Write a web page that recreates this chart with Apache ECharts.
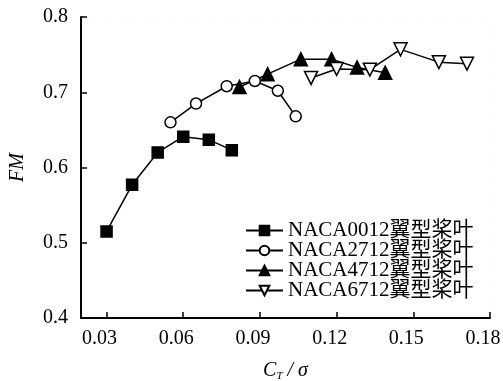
<!DOCTYPE html>
<html>
<head>
<meta charset="utf-8">
<script src="https://cdn.jsdelivr.net/npm/echarts@6/dist/echarts.min.js"></script>
<style>
  html, body { margin: 0; padding: 0; background: #fff; }
  #main { width: 503px; height: 381px; }
</style>
</head>
<body>
<div id="main"></div>
<script>
// values
var seriesNames = ['NACA0012翼型桨叶', 'NACA2712翼型桨叶', 'NACA4712翼型桨叶', 'NACA6712翼型桨叶'];
var naca0012X = [0.030, 0.040, 0.050, 0.060, 0.070, 0.079];
var naca0012Y = [0.515, 0.577, 0.620, 0.641, 0.637, 0.623];
var naca2712X = [0.055, 0.065, 0.077, 0.088, 0.097, 0.104];
var naca2712Y = [0.660, 0.685, 0.708, 0.715, 0.702, 0.668];
var naca4712X = [0.082, 0.093, 0.106, 0.118, 0.128, 0.139];
var naca4712Y = [0.707, 0.724, 0.744, 0.744, 0.733, 0.726];
var naca6712X = [0.110, 0.120, 0.133, 0.145, 0.160, 0.171];
var naca6712Y = [0.719, 0.731, 0.730, 0.757, 0.740, 0.738];
var xTicks = [0.03, 0.06, 0.09, 0.12, 0.15, 0.18];

function pairs(xs, ys) {
    var out = [];
    for (var i = 0; i < xs.length; i++) out.push([xs[i], ys[i]]);
    return out;
}

var font = '"Liberation Serif", "Times New Roman", "Noto Sans CJK SC", serif';

function mkSeries(name, data, symbol, size, fill, rotate) {
    return {
        name: name,
        type: 'line',
        data: data,
        symbol: symbol,
        symbolSize: size,
        symbolRotate: rotate || 0,
        showAllSymbol: true,
        lineStyle: { color: '#000', width: 1.5 },
        itemStyle: { color: fill, borderColor: '#000', borderWidth: 1.5 },
        emphasis: { disabled: true },
        z: 3
    };
}

var option = {
    animation: false,
    backgroundColor: '#fff',
    grid: {
        left: 81, right: 13, top: 17, bottom: 63,
        outerBoundsMode: 'none',
        containLabel: false,
        show: true,
        borderColor: '#eeeeee',
        borderWidth: 1,
        borderType: [1, 12]
    },
    legend: {
        orient: 'vertical',
        left: 240,
        top: 215,
        itemWidth: 37,
        itemHeight: 12,
        itemGap: -1,
        textStyle: { fontFamily: font, fontSize: 21, color: '#000' },
        data: seriesNames
    },
    xAxis: {
        type: 'value',
        min: 0.02,
        max: 0.18,
        name: '{c|C}{s|T}{c| / σ}',
        nameLocation: 'middle',
        nameGap: 41,
        nameTextStyle: {
            rich: {
                c: { fontFamily: font, fontStyle: 'italic', fontSize: 20, color: '#000' },
                s: { fontFamily: font, fontStyle: 'italic', fontSize: 11, color: '#000', verticalAlign: 'bottom', padding: [12, 0, 0, 0] }
            }
        },
        axisLine: { lineStyle: { color: '#000', width: 2 } },
        axisTick: { inside: true, length: 6, customValues: xTicks, lineStyle: { color: '#000', width: 1.5 } },
        axisLabel: {
            customValues: xTicks,
            margin: 11,
            padding: [0, 14, 0, 0],
            fontFamily: font, fontSize: 20, color: '#000',
            formatter: function (v) { return v.toFixed(2); }
        },
        splitLine: { show: false }
    },
    yAxis: {
        type: 'value',
        min: 0.4,
        max: 0.8,
        interval: 0.1,
        name: 'FM',
        nameLocation: 'middle',
        nameGap: 53,
        nameTextStyle: { fontFamily: font, fontStyle: 'italic', fontSize: 20, color: '#000' },
        axisLine: { show: true, lineStyle: { color: '#000', width: 2 } },
        axisTick: { inside: true, length: 6, lineStyle: { color: '#000', width: 1.5 } },
        axisLabel: {
            margin: 13,
            fontFamily: font, fontSize: 20, color: '#000',
            formatter: function (v) { return v.toFixed(1); }
        },
        splitLine: { show: false }
    },
    series: [
        mkSeries(seriesNames[0], pairs(naca0012X, naca0012Y), 'rect', 11, '#000'),
        mkSeries(seriesNames[1], pairs(naca2712X, naca2712Y), 'circle', 11, '#fff'),
        mkSeries(seriesNames[2], pairs(naca4712X, naca4712Y), 'triangle', 13, '#000'),
        mkSeries(seriesNames[3], pairs(naca6712X, naca6712Y), 'triangle', 13, '#fff', 180)
    ]
};

var chart = echarts.init(document.getElementById('main'));
chart.setOption(option);
</script>
</body>
</html>
